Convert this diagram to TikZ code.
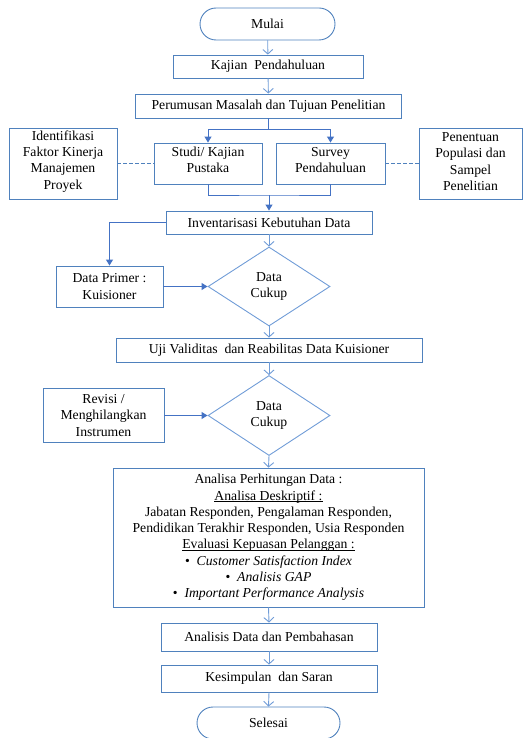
\documentclass[tikz,border=0pt]{standalone}
\usepackage{fontspec}
\setmainfont{Liberation Serif}
\usetikzlibrary{arrows.meta,shapes.geometric}
\definecolor{boxc}{RGB}{79,129,189}
\definecolor{lightc}{RGB}{112,156,215}
\definecolor{arrc}{RGB}{68,114,196}
\newcommand{\ulbase}[1]{\underline{\smash{#1}}}
\begin{document}
\begin{tikzpicture}[x=1pt,y=-1pt,
  font=\fontsize{13.7}{16.3}\selectfont,
  box/.style={draw=boxc,line width=0.9pt,align=center,inner sep=0pt},
  term/.style={box,rounded corners=16pt},
  decision/.style={draw=lightc,line width=0.9pt,diamond,align=center,inner sep=0pt},
  openarr/.style={draw=lightc,line width=0.9pt,-{Straight Barb[length=4.5pt,width=10pt]}},
  fillarr/.style={draw=arrc,line width=1pt,-{Triangle[length=6pt,width=7pt]}},
  plain/.style={draw=arrc,line width=1pt},
  dashline/.style={draw=boxc,line width=0.8pt,dash pattern=on 3.5pt off 2.5pt}]
\useasboundingbox (0,0) rectangle (525,738);

\node[term,minimum width=135pt,minimum height=32pt] (mulai) at (267.5,24) {Mulai};
\node[box,minimum width=190pt,minimum height=23pt] (kajian) at (268,66.5) {Kajian\ \ Pendahuluan};
\node[box,minimum width=266pt,minimum height=24pt] (perumusan) at (268.5,106) {Perumusan Masalah dan Tujuan Penelitian};
\node[box,minimum width=108pt,minimum height=41pt] (studi) at (208,163.5) {};
\node[align=center,inner sep=0pt] (studit) at (208,160) {Studi/ Kajian\\Pustaka};
\node[box,minimum width=109pt,minimum height=41pt] (survey) at (330.5,163.5) {};
\node[align=center,inner sep=0pt] (surveyt) at (330.5,160) {Survey\\Pendahuluan};
\node[box,minimum width=108pt,minimum height=71pt] (ident) at (63,163.5) {};
\node[align=center,inner sep=0pt] (identt) at (63,161.5) {Identifikasi\\Faktor Kinerja\\Manajemen\\Proyek};
\node[box,minimum width=103pt,minimum height=71pt] (penentuan) at (470.5,163.5) {};
\node[align=center,inner sep=0pt] (penentuant) at (470.5,161.5) {Penentuan\\Populasi dan\\Sampel\\Penelitian};
\node[box,minimum width=206pt,minimum height=23pt] (invent) at (269,222.5) {Inventarisasi Kebutuhan Data};
\node[box,minimum width=107pt,minimum height=41pt] (primer) at (109.5,286.5) {Data Primer :\\Kuisioner};
\node[decision,minimum width=122pt,minimum height=79pt] (d1) at (269,286.5) {Data\\Cukup};
\node[box,minimum width=306pt,minimum height=24pt] (uji) at (269,350) {Uji Validitas\ \ dan Reabilitas Data Kuisioner};
\node[decision,minimum width=122pt,minimum height=80pt] (d2) at (269,415.5) {Data\\Cukup};
\node[box,minimum width=121pt,minimum height=54pt] (revisi) at (103.5,415.5) {Revisi /\\Menghilangkan\\Instrumen};
\node[box,minimum width=311pt,minimum height=139pt] (analisa) at (268.5,537.5) {Analisa Perhitungan Data :\\
  \ulbase{Analisa Deskriptif :}\\
  Jabatan Responden, Pengalaman Responden,\\
  Pendidikan Terakhir Responden, Usia Responden\\
  \ulbase{Evaluasi Kepuasan Pelanggan :}\\
  •\ \ \textit{Customer Satisfaction Index}\\
  •\ \ \textit{Analisis GAP}\\
  •\ \ \textit{Important Performance Analysis}};
\node[box,minimum width=216pt,minimum height=28pt] (analisis) at (269,637) {Analisis Data dan Pembahasan};
\node[box,minimum width=216pt,minimum height=27pt] (kesimpulan) at (269,678.5) {Kesimpulan\ \ dan Saran};
\node[term,minimum width=143pt,minimum height=32pt] (selesai) at (268.5,723) {Selesai};

% connectors
\draw[openarr] (mulai) -- (kajian);
\draw[openarr] (kajian) -- (perumusan);
\coordinate (br) at (268.5,130);
\draw[plain] (perumusan.south) -- (br);
\draw[fillarr] (br) -| (studi.north);
\draw[fillarr] (br) -| (survey.north);
\coordinate (jn) at (269,195);
\draw[plain] (studi.south) |- (jn) -| (survey.south);
\draw[fillarr] (jn) -- (invent.north);
\draw[dashline] (ident.east) -- (studi.west);
\draw[dashline] (survey.east) -- (penentuan.west);
\draw[fillarr] (invent.west) -| (primer.north);
\draw[openarr] (invent.south) -- (d1.north);
\draw[fillarr] (primer.east) -- (d1.west);
\draw[openarr] (d1.south) -- (uji.north);
\draw[openarr] (uji.south) -- (d2.north);
\draw[fillarr] (revisi.east) -- (d2.west);
\draw[openarr] (d2.south) -- (analisa.north);
\draw[openarr] (analisa.south) -- (analisis.north);
\draw[openarr] (analisis.south) -- (kesimpulan.north);
\draw[openarr] (kesimpulan.south) -- (selesai.north);
\end{tikzpicture}
\end{document}
